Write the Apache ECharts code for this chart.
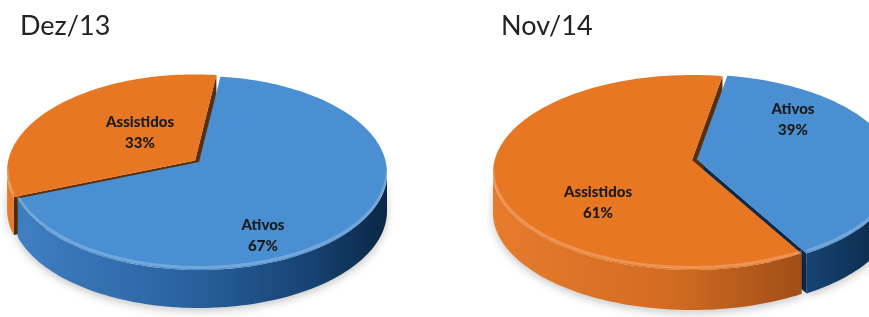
<!DOCTYPE html>
<html><head><meta charset="utf-8">
<script src="https://cdn.jsdelivr.net/npm/echarts@6/dist/echarts.min.js"></script>
<style>html,body{margin:0;padding:0;background:#fff}#c{width:869px;height:317px}</style>
</head><body><div id="c"></div>
<script>
// ---- data ----
const titles = ['Dez/13', 'Nov/14'];
const categories = ['Ativos', 'Assistidos'];
const valuesDez13 = [67, 33];
const valuesNov14 = [39, 61];

// ---- layout / style ----
const pies = [
  {values: valuesDez13, cx: 199, cy: 173, rx: 188, ry: 97, apex: 162, depth: 38, start: 82.7,
   explode: [0, 5], labelOffsets: [[64, 74], [-59, -29]], titleLeft: 20},
  {values: valuesNov14, cx: 692, cy: 172.5, rx: 199, ry: 97.5, apex: 160, depth: 40, start: 80,
   explode: [5, 0], labelOffsets: [[101, -40], [-94, 43]], titleLeft: 501}
];
const topColors = ['#4a8fd1', '#e87724'];
const sideStops = [
  [[0, '#4080c4'], [0.45, '#2b63a1'], [0.8, '#164272'], [1, '#0a2744']],
  [[0, '#e67b2b'], [0.45, '#d26b22'], [0.8, '#9c4c16'], [1, '#5a2e0c']]
];
const wallColors = ['#0c2c4c', '#5c2f0c'];

function proj(p, phiDeg, dx, dy, down) {
  const v = (p.cy - p.apex) / p.ry;
  const f = phiDeg * Math.PI / 180;
  const X = Math.cos(f), Y = Math.sin(f);
  const d = 1 + v * Y;
  const Yp = (Y + v) / d, Xp = X * Math.sqrt(1 - v * v) / d;
  return [p.cx + p.rx * Xp + dx, p.cy - p.ry * Yp + dy + (down || 0)];
}
function arc(p, a, b, dx, dy, down) {
  const n = Math.max(2, Math.ceil(Math.abs(b - a) / 1.5));
  const pts = [];
  for (let k = 0; k <= n; k++) pts.push(proj(p, a + (b - a) * k / n, dx, dy, down));
  return pts;
}

function makeRender(p) {
  const total = p.values.reduce((s, x) => s + x, 0);
  return function (params, api) {
    const i = params.dataIndex;
    const val = api.value(0);
    let before = 0;
    for (let k = 0; k < i; k++) before += p.values[k];
    const hi = p.start - before / total * 360;
    const lo = p.start - (before + val) / total * 360;
    const mid = (lo + hi) / 2 * Math.PI / 180;
    const e = p.explode[i];
    const dx = e * Math.cos(mid), dy = -e * Math.sin(mid) * p.ry / p.rx;
    const apex = [p.cx + dx, p.apex + dy];
    const apexD = [apex[0], apex[1] + p.depth];
    const children = [];
    // radial walls
    [[lo, lo - 90], [hi, hi + 90]].forEach(function (ed) {
      if (Math.sin(ed[1] * Math.PI / 180) < 0) {
        const r = proj(p, ed[0], dx, dy, 0), rd = proj(p, ed[0], dx, dy, p.depth);
        children.push({type: 'polygon', z2: 1, shape: {points: [apex, r, rd, apexD]},
          style: {fill: wallColors[i]}});
      }
    });
    // outer side (visible front part)
    const v = (p.cy - p.apex) / p.ry;
    const as = Math.asin(v) * 180 / Math.PI;
    const A0 = 180 + as, A1 = 360 - as;
    for (let k = -2; k <= 1; k++) {
      const s = Math.max(lo, A0 + 360 * k), t = Math.min(hi, A1 + 360 * k);
      if (t > s) {
        const top = arc(p, s, t, dx, dy, 0);
        const bot = arc(p, t, s, dx, dy, p.depth);
        children.push({type: 'polygon', z2: 2, shape: {points: top.concat(bot)},
          style: {
            fill: {type: 'linear', x: p.cx - p.rx, y: 0, x2: p.cx + p.rx, y2: 0, global: true,
              colorStops: sideStops[i].map(c => ({offset: c[0], color: c[1]}))},
            shadowBlur: 8, shadowColor: 'rgba(0,0,0,0.22)', shadowOffsetY: 3
          }});
        children.push({type: 'polyline', z2: 4, shape: {points: arc(p, s, t, dx, dy, -2.5)},
          style: {stroke: 'rgba(255,255,255,0.22)', lineWidth: 3, fill: null}});
      }
    }
    // top face
    children.push({type: 'polygon', z2: 3, shape: {points: [apex].concat(arc(p, lo, hi, dx, dy, 0))},
      style: {fill: topColors[i]}});
    // label
    const lo2 = p.labelOffsets[i];
    children.push({type: 'text', z2: 5, x: p.cx + lo2[0], y: p.apex + lo2[1],
      style: {text: categories[i] + '\n' + val + '%', align: 'center', verticalAlign: 'middle',
        font: '900 15px Lato', fill: '#1a1a1a', lineHeight: 21}});
    return {type: 'group', children: children};
  };
}

const chart = echarts.init(document.getElementById('c'), null, {renderer: 'canvas'});
chart.setOption({
  animation: false,
  backgroundColor: '#ffffff',
  title: pies.map((p, i) => ({
    text: titles[i], left: p.titleLeft, top: 13, padding: 0,
    textStyle: {fontFamily: 'Lato', fontSize: 27, fontWeight: 'normal', color: '#222', lineHeight: 27}
  })),
  series: pies.map(p => ({
    type: 'custom', coordinateSystem: 'none', silent: true,
    data: p.values.map(x => [x]),
    renderItem: makeRender(p)
  }))
});
</script></body></html>
